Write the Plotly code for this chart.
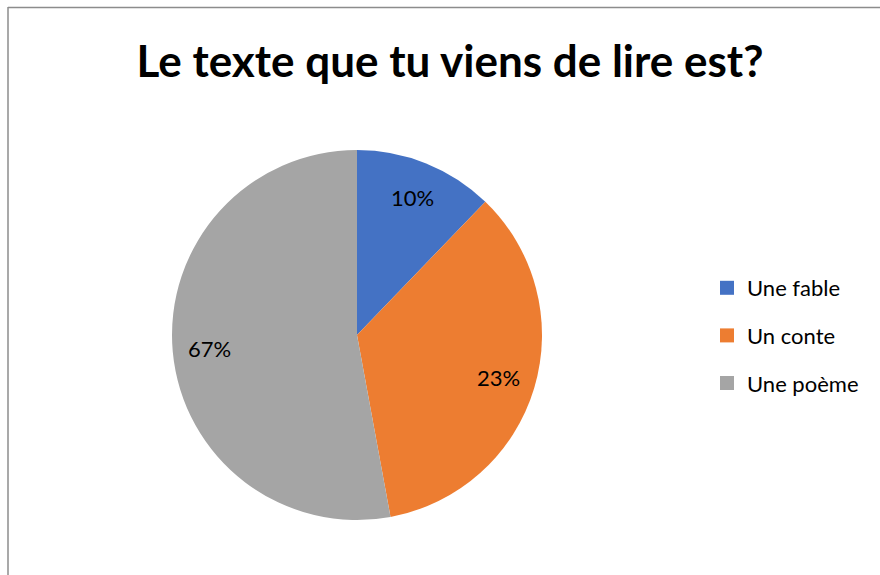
import math
import plotly.graph_objects as go

categories = ["Une fable", "Un conte", "Une poème"]
slice_shares = [12.2, 34.9, 52.9]
label_texts = ["10%", "23%", "67%"]
colors = ["#4472C4", "#ED7D31", "#A5A5A5"]
title_text = "Le texte que tu viens de lire est?"

W, H = 880, 575
cx, cy, r = 357, 335, 185
FONT = "Lato, Carlito, Calibri, sans-serif"

fig = go.Figure()
fig.add_trace(go.Pie(
    labels=categories,
    values=slice_shares,
    textinfo="none",
    marker=dict(colors=colors, line=dict(color="#FFFFFF", width=0)),
    sort=False,
    direction="clockwise",
    rotation=0,
    showlegend=False,
    hoverinfo="label+percent",
    domain=dict(x=[(cx - r) / W, (cx + r) / W], y=[1 - (cy + r) / H, 1 - (cy - r) / H]),
))

# legend entries (one group each so that the gap between items matches)
for i, (name, col) in enumerate(zip(categories, colors)):
    fig.add_trace(go.Scatter(
        x=[None], y=[None], mode="markers", name=name,
        marker=dict(symbol="square", size=14, color=col),
        legendgroup=str(i), showlegend=True, hoverinfo="skip",
    ))

# data labels placed at 0.8 of the radius along each slice's mid-angle
total = sum(slice_shares)
annotations = []
acc = 0.0
for share, txt in zip(slice_shares, label_texts):
    mid = (acc + share / 2) / total * 2 * math.pi
    acc += share
    px = cx + 0.8 * r * math.sin(mid)
    py = cy - 0.8 * r * math.cos(mid)
    annotations.append(dict(
        x=px / W, y=1 - py / H, xref="paper", yref="paper",
        text=txt, showarrow=False, xanchor="center", yanchor="middle",
        font=dict(family=FONT, size=22, color="#000000"),
    ))

fig.update_layout(
    width=W, height=H,
    margin=dict(l=0, r=0, t=0, b=0),
    paper_bgcolor="#FFFFFF",
    plot_bgcolor="#FFFFFF",
    xaxis=dict(visible=False),
    yaxis=dict(visible=False),
    title=dict(
        text="<b>" + title_text + "</b>",
        x=450 / W, xanchor="center",
        y=1 - 62 / H, yanchor="middle",
        font=dict(family=FONT, size=44, color="#000000"),
    ),
    legend=dict(
        x=707 / W, xanchor="left",
        y=1 - 267 / H, yanchor="top",
        font=dict(family=FONT, size=22, color="#000000"),
        tracegroupgap=16,
        itemwidth=30,
        bgcolor="rgba(0,0,0,0)",
    ),
    annotations=annotations,
    shapes=[
        dict(type="line", xref="paper", yref="paper", x0=8 / W, x1=1.01, y0=1 - 7.5 / H, y1=1 - 7.5 / H,
             line=dict(color="#8C8C8C", width=1.5)),
        dict(type="line", xref="paper", yref="paper", x0=8 / W, x1=8 / W, y0=1 - 7 / H, y1=-0.01,
             line=dict(color="#8C8C8C", width=1.5)),
    ],
)

fig.write_html(
    "out.html",
    config={"displayModeBar": False},
    post_script="document.body.style.margin='0';document.body.style.overflow='hidden';",
)
